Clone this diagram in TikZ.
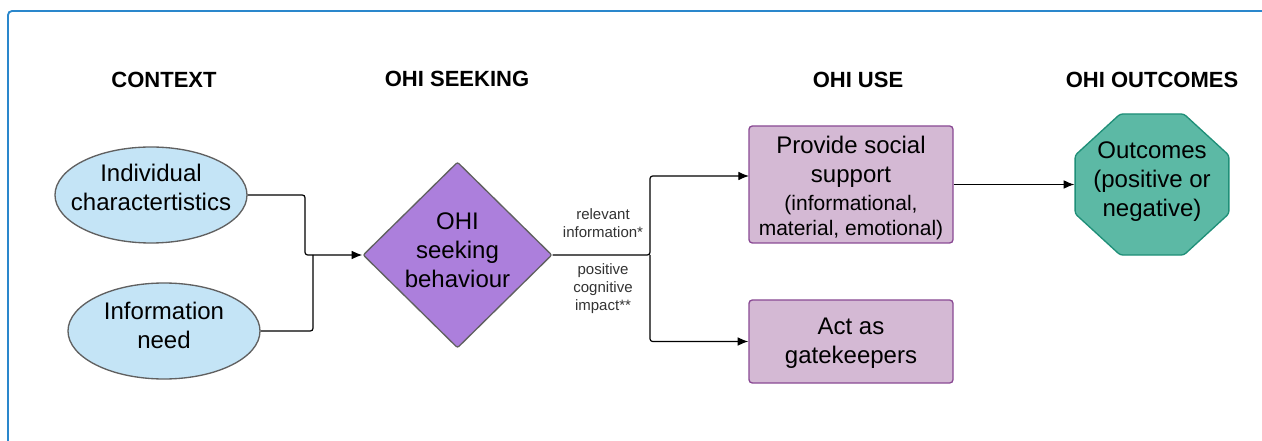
\documentclass[tikz,border=0pt]{standalone}
\usepackage{fontspec}
\setmainfont{Liberation Sans}
\usetikzlibrary{shapes.geometric,arrows.meta,calc}
\definecolor{frameblue}{HTML}{2A87CC}
\definecolor{ellfill}{HTML}{C4E4F6}
\definecolor{shapeborder}{HTML}{606060}
\definecolor{diafill}{HTML}{AC7FDC}
\definecolor{boxfill}{HTML}{D4B9D4}
\definecolor{boxborder}{HTML}{8A4A94}
\definecolor{octfill}{HTML}{5CB9A5}
\definecolor{octborder}{HTML}{1F8F78}
\definecolor{labelgrey}{HTML}{333333}
\tikzset{
  header/.style={font=\fontsize{16.5}{19}\selectfont\bfseries, inner sep=0pt},
  bigtext/.style={font=\fontsize{18}{21.75}\selectfont, align=center, inner sep=0pt},
  smalllabel/.style={font=\fontsize{11.25}{13.5}\selectfont, align=center, text=labelgrey, inner sep=0pt},
  ellnode/.style={ellipse, draw=shapeborder, fill=ellfill, line width=1pt, minimum width=144pt, minimum height=72pt, inner sep=0pt},
  dianode/.style={diamond, draw=shapeborder, fill=diafill, line width=1pt, minimum width=141.75pt, minimum height=139.5pt, inner sep=0pt, rounded corners=1.5pt},
  boxnode/.style={rectangle, draw=boxborder, fill=boxfill, line width=1pt, rounded corners=2.5pt, minimum width=153pt, inner sep=0pt},
  conn/.style={draw=black, line width=0.9pt, rounded corners=2pt},
  arrowconn/.style={conn, -{Latex[length=8pt,width=6.5pt]}}
}
\begin{document}
\begin{tikzpicture}[x=0.75pt,y=-0.75pt]
\useasboundingbox (0,0) rectangle (1262,441);
\fill[white] (0,0) rectangle (1262,441);
\begin{scope}
\clip (0,0) rectangle (1262,441);
\draw[frameblue, line width=1.4pt, rounded corners=3pt] (8,11) rectangle (1300,480);
\end{scope}

% headers
\node[header] (h1) at (164,80) {CONTEXT};
\node[header] (h2) at (457,79) {OHI SEEKING};
\node[header] (h3) at (858,80) {OHI USE};
\node[header] (h4) at (1152,80) {OHI OUTCOMES};

% context ellipses
\node[ellnode, label={[bigtext, yshift=6pt]center:Individual\\charactertistics}] (ic) at (151,195) {};
\node[ellnode, label={[bigtext, yshift=4pt]center:Information\\need}] (in) at (164,331) {};

% diamond
\node[dianode, label={[bigtext, yshift=3.75pt]center:OHI\\seeking\\behaviour}] (ohi) at (457.5,255) {};

% boxes
\node[boxnode, minimum height=87.75pt] (ps) at (851,184.5) {};
\node[bigtext] (pstext) at (851,188) {Provide social\\support\\[-1pt]{\fontsize{15.75}{18.75}\selectfont (informational,}\\[-3pt]{\fontsize{15.75}{18.75}\selectfont material, emotional)}};
\node[boxnode, minimum height=62.25pt, label={[bigtext, yshift=-1pt]center:Act as\\gatekeepers}] (gk) at (851,341.5) {};

% octagon
\node[regular polygon, regular polygon sides=8, draw=octborder, fill=octfill, line width=1pt, minimum size=114.5pt, inner sep=0pt, xscale=1.09, rounded corners=2pt] (oc) at (1152,184.5) {};
\node[bigtext] (octext) at (1152,182) {Outcomes\\(positive or\\negative)};

% small labels
\node[smalllabel] (l1) at (603,223) {relevant\\information*};
\node[smalllabel] (l2) at (603,289) {positive\\cognitive\\impact**};

% connectors
\coordinate (j1) at (305,255);
\coordinate (j2) at (313,255);
\coordinate (s1) at (650,255);
\coordinate (psin) at (749,176);
\draw[arrowconn] (ic.east) -| (j1) -- (ohi.west);
\draw[conn] (in.east) -| (j2);
\draw[arrowconn] (ohi.east) -- (s1) |- (psin);
\draw[arrowconn] (s1) |- (gk.west);
\draw[arrowconn] (ps.east) -- (oc.west);
\end{tikzpicture}
\end{document}
